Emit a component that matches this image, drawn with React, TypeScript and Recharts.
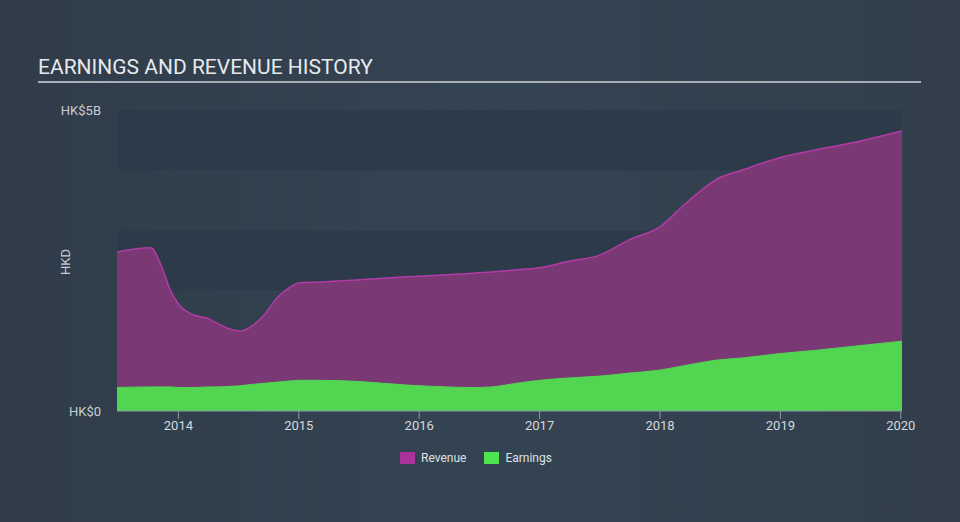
import { AreaChart, Area, XAxis, YAxis, ReferenceArea } from 'recharts';

const dates = [
  2013.49, 2013.77, 2013.86, 2013.93, 2014.02, 2014.12, 2014.24, 2014.32, 2014.43, 2014.52, 2014.6, 2014.71,
  2014.82, 2014.93, 2015.01, 2015.15, 2015.5, 2015.9, 2016.0, 2016.45, 2016.6, 2016.84, 2017.0, 2017.25,
  2017.5, 2017.75, 2018.0, 2018.22, 2018.49, 2018.68, 2018.98, 2019.3, 2019.63, 2020.01,
];
// HK$ billions
const revenue = [
  2.64, 2.71, 2.4, 2.02, 1.73, 1.6, 1.54, 1.46, 1.36, 1.33, 1.4, 1.59,
  1.88, 2.06, 2.13, 2.14, 2.18, 2.23, 2.24, 2.29, 2.31, 2.35, 2.38, 2.49,
  2.59, 2.85, 3.06, 3.46, 3.87, 4.0, 4.2, 4.34, 4.47, 4.65,
];
const earnings = [
  0.39, 0.4, 0.4, 0.4, 0.39, 0.39, 0.4, 0.4, 0.41, 0.42, 0.44, 0.46,
  0.48, 0.5, 0.51, 0.51, 0.49, 0.43, 0.42, 0.39, 0.4, 0.47, 0.51, 0.55,
  0.58, 0.63, 0.68, 0.76, 0.85, 0.88, 0.95, 1.01, 1.08, 1.16,
];
const yearTicks = [2014, 2015, 2016, 2017, 2018, 2019, 2020];
const bands = [
  { y1: 4, y2: 5, fill: '#2d3a49' },
  { y1: 2, y2: 3, fill: '#2d3a49' },
  { y1: 0, y2: 1, fill: '#2d3a49' },
];

const data = dates.map((d, i) => ({ date: d, revenue: revenue[i], earnings: earnings[i] }));

const fmtY = (v: number) => (v === 0 ? 'HK$0' : `HK$${v}B`);

export default function App() {
  return (
    <div
      style={{
        position: 'absolute',
        left: 0,
        top: 0,
        width: 960,
        height: 522,
        background: 'linear-gradient(90deg, #303c4a 0%, #344352 50%, #323e4c 100%)',
        fontFamily: 'Roboto, sans-serif',
        overflow: 'hidden',
      }}
    >
      <div style={{ position: 'absolute', left: 38, top: 55, fontSize: 21, color: '#e6e9ec' }}>
        EARNINGS AND REVENUE HISTORY
      </div>
      <div style={{ position: 'absolute', left: 38, top: 81, width: 883, height: 2, background: '#a7aeb6' }} />
      <div
        style={{
          position: 'absolute',
          left: 65,
          top: 262,
          transform: 'translate(-50%, -50%) rotate(-90deg)',
          fontSize: 13,
          color: '#c9ced4',
        }}
      >
        HKD
      </div>
      <AreaChart width={960} height={522} data={data} margin={{ top: 110, right: 58, bottom: 81, left: 0 }}>
        {bands.map((b, i) => (
          <ReferenceArea key={i} y1={b.y1} y2={b.y2} fill={b.fill} fillOpacity={1} stroke="none" ifOverflow="visible" />
        ))}
        <XAxis
          dataKey="date"
          type="number"
          domain={[2013.49, 2020.01]}
          ticks={yearTicks}
          allowDataOverflow
          stroke="#8d98a4"
          tickLine={{ stroke: '#8d98a4' }}
          tickSize={8}
          tick={{ fill: '#d5d9de', fontSize: 13 }}
        />
        <YAxis
          width={117}
          domain={[0, 5]}
          ticks={[0, 5]}
          tickFormatter={fmtY}
          axisLine={false}
          tickLine={false}
          tickMargin={10}
          tick={{ fill: '#c9ced4', fontSize: 13 }}
        />
        <Area
          type="monotone"
          dataKey="revenue"
          stroke="#b13ca6"
          strokeWidth={1.5}
          fill="#7a3875"
          fillOpacity={1}
          isAnimationActive={false}
        />
        <Area
          type="monotone"
          dataKey="earnings"
          stroke="#52d652"
          strokeWidth={1}
          fill="#52d652"
          fillOpacity={1}
          isAnimationActive={false}
        />
      </AreaChart>
      <div
        style={{
          position: 'absolute',
          top: 451,
          left: 400,
          display: 'flex',
          alignItems: 'center',
          fontSize: 12,
          color: '#dde1e5',
        }}
      >
        <span style={{ width: 15, height: 12, background: '#a8349b', marginRight: 6, display: 'inline-block' }} />
        <span style={{ marginRight: 18 }}>Revenue</span>
        <span style={{ width: 15, height: 12, background: '#4fe34f', marginRight: 6, display: 'inline-block' }} />
        <span>Earnings</span>
      </div>
    </div>
  );
}
